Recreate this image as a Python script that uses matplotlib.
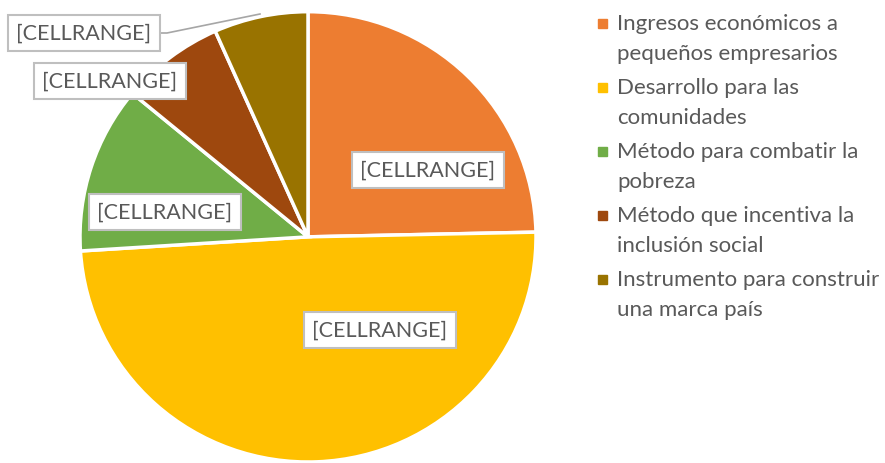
import matplotlib.pyplot as plt
from matplotlib.patches import Rectangle

# datos
categorias = ['Ingresos económicos a\npequeños empresarios',
              'Desarrollo para las\ncomunidades',
              'Método para combatir la\npobreza',
              'Método que incentiva la\ninclusión social',
              'Instrumento para construir\nuna marca país']
valores = [37, 74, 18, 11, 10]
etiquetas = ['[CELLRANGE]'] * 5
colores = ['#ED7D31', '#FFC000', '#70AD47', '#9E480E', '#997300']

plt.rcParams['font.family'] = ['Lato', 'DejaVu Sans']
gris = '#595959'

W, H = 885, 464
fig = plt.figure(figsize=(W / 100, H / 100), dpi=100)

# ejes del pastel: caja del círculo en píxeles (izq 80, der 536, arriba 12.7, abajo 463)
axp = fig.add_axes([80 / W, (H - 463) / H, 456 / W, 450.3 / H])
axp.pie(valores, colors=colores, startangle=90, counterclock=False,
        radius=1, frame=True,
        wedgeprops=dict(edgecolor='white', linewidth=2.5))
axp.set_aspect('auto')
axp.set_xlim(-1, 1)
axp.set_ylim(-1, 1)
axp.axis('off')

# capa superior en píxeles para etiquetas y leyenda
ax = fig.add_axes([0, 0, 1, 1])
ax.set_xlim(0, W)
ax.set_ylim(H, 0)
ax.axis('off')

pos_etiq = [(428, 171), (380, 331), (165, 213), (110, 82), (84, 34)]
for txt, (x, y) in zip(etiquetas, pos_etiq):
    ax.text(x, y, txt, ha='center', va='center', fontsize=15.5, color=gris,
            bbox=dict(boxstyle='square,pad=0.38', fc='white', ec='#BFBFBF', lw=1.5))

# linea guía de la última etiqueta
ax.plot([157, 167, 260], [34, 34, 15], color='#A6A6A6', lw=1.2)

# leyenda
y0 = 24
for i, (cat, col) in enumerate(zip(categorias, colores)):
    y = y0 + i * 64
    ax.add_patch(Rectangle((598, y - 4.5), 9, 9, color=col))
    for j, l in enumerate(cat.split('\n')):
        ax.text(617, y + j * 30, l, ha='left', va='center',
                fontsize=16, color=gris)

fig.savefig('out.png', dpi=100)
